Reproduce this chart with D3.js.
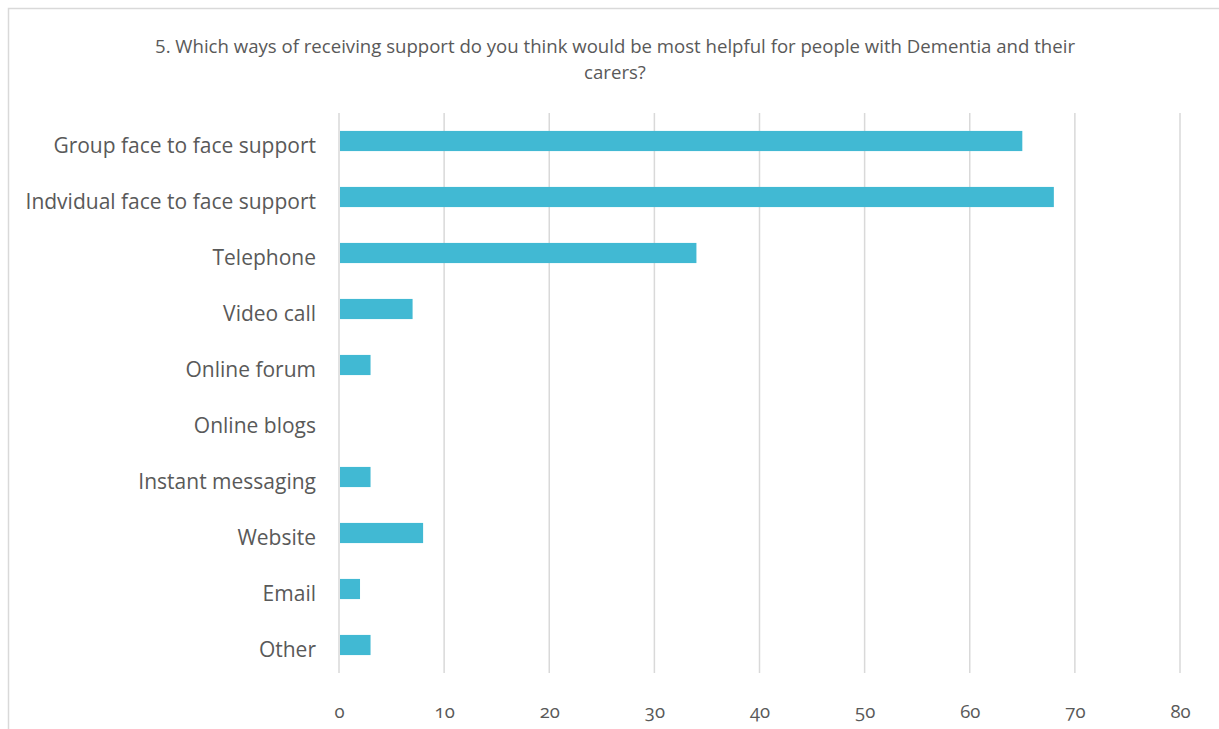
<!DOCTYPE html>
<html><head><meta charset="utf-8">
<script src="https://cdn.jsdelivr.net/npm/d3@7"></script>
<style>
html,body{margin:0;padding:0;background:#fff;overflow:hidden}
svg{display:block}
</style></head>
<body><svg id="c" width="1219" height="729"></svg>
<script>
const titleLines = ["5. Which ways of receiving support do you think would be most helpful for people with Dementia and their", "carers?"];
const categories = ["Group face to face support","Indvidual face to face support","Telephone","Video call","Online forum","Online blogs","Instant messaging","Website","Email","Other"];
const values = [65,68,34,7,3,0,3,8,2,3];
const xTicks = [0,10,20,30,40,50,60,70,80];

(function(){
const svg = d3.select("#c");
const W = 1219, H = 729;
const font = "'Open Sans', sans-serif";
const textColor = "#595959";

// chart frame
svg.append("rect").attr("x",8.5).attr("y",8.5).attr("width",W+20).attr("height",H+20)
  .attr("fill","#fff").attr("stroke","#d9d9d9").attr("stroke-width",1.5);

// title
svg.append("g").selectAll("text").data(titleLines).join("text")
  .attr("x",615).attr("y",(d,i)=>53+i*26)
  .attr("text-anchor","middle").attr("font-family",font).attr("font-size",18.6)
  .attr("fill",textColor).text(d=>d);

const pl = 339, pr = 1180, pt = 113, pb = 673;
const x = d3.scaleLinear().domain([0,80]).range([pl,pr]);
const y = d3.scaleBand().domain(categories).range([pt,pb]).paddingInner(0.64).paddingOuter(0.32);

// gridlines
svg.append("g").selectAll("line").data(xTicks).join("line")
  .attr("x1",d=>x(d)).attr("x2",d=>x(d)).attr("y1",pt).attr("y2",pb)
  .attr("stroke","#d9d9d9").attr("stroke-width",1.5);

// bars
svg.append("g").selectAll("rect").data(categories).join("rect")
  .attr("x",x(0)+1).attr("y",d=>y(d))
  .attr("width",(d,i)=>Math.max(0,x(values[i])-x(0)-1))
  .attr("height",y.bandwidth()).attr("fill","#41b9d3");

// category labels
const yAxis = svg.append("g").attr("transform",`translate(${pl-23},5)`)
  .call(d3.axisLeft(y).tickSize(0).tickPadding(0));
yAxis.select(".domain").remove();
yAxis.selectAll("text").attr("font-family",font).attr("font-size",21).attr("fill",textColor);

// x tick labels
const xAxis = svg.append("g").attr("transform",`translate(0,${pb})`)
  .call(d3.axisBottom(x).tickValues(xTicks).tickSize(0).tickPadding(0).tickFormat(d3.format("d")));
xAxis.select(".domain").remove();
xAxis.selectAll("text").attr("font-family",font).attr("font-size",18.5).attr("fill",textColor)
  .attr("y",45).attr("dy","0").style("font-variant-numeric","oldstyle-nums");
})();
</script></body></html>
